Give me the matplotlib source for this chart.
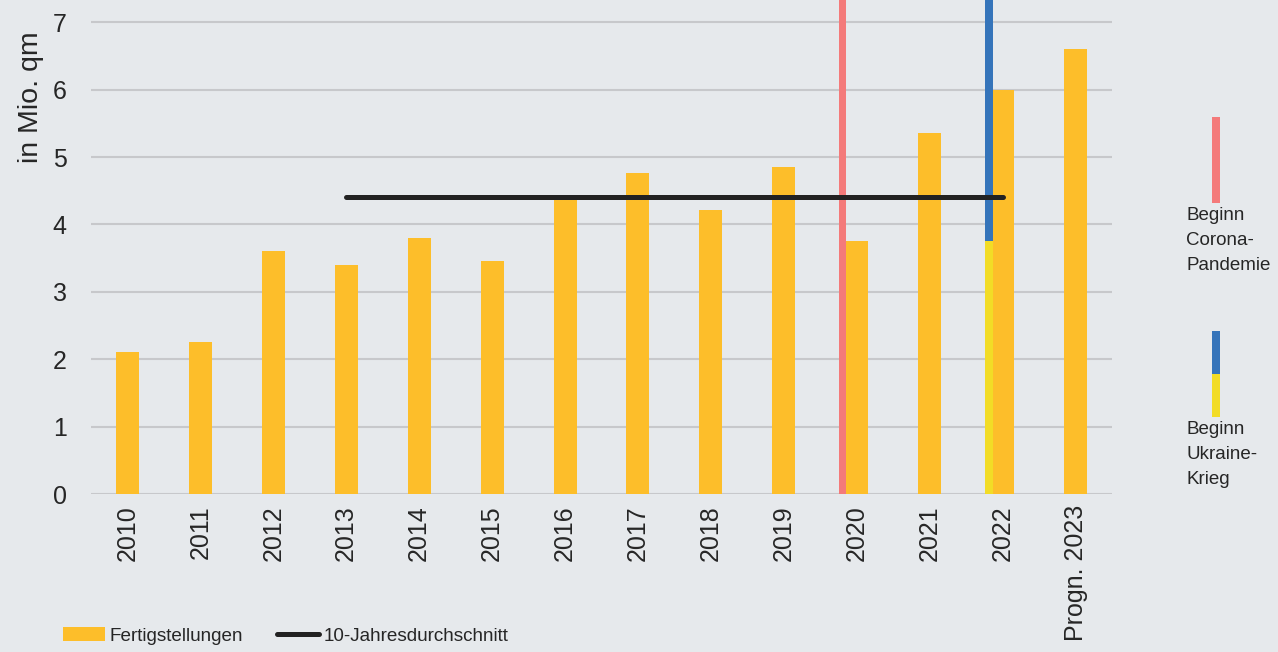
import matplotlib
matplotlib.use("Agg")
import matplotlib.pyplot as plt
from matplotlib.patches import Patch, Rectangle
from matplotlib.lines import Line2D

years = ["2010", "2011", "2012", "2013", "2014", "2015", "2016", "2017",
         "2018", "2019", "2020", "2021", "2022", "Progn. 2023"]
fertigstellungen = [2.1, 2.25, 3.6, 3.4, 3.8, 3.45, 4.4, 4.77, 4.22, 4.85,
                    3.75, 5.35, 6.0, 6.6]
avg_years = ["2013", "2014", "2015", "2016", "2017", "2018", "2019", "2020", "2021", "2022"]
avg_values = [4.41, 4.41, 4.41, 4.41, 4.41, 4.41, 4.41, 4.41, 4.41, 4.41]
corona_year = "2020"
ukraine_year = "2022"
ukraine_split = 3.75

BG = "#E6E9EC"
BAR = "#FDBE2A"
PINK = "#F47A7A"
BLUE = "#3574BA"
YELLOW = "#F2DC26"
GRID = "#C7C8CB"
TXT = "#262626"

plt.rcParams["font.family"] = ["Liberation Sans", "DejaVu Sans"]

W, H = 1278, 652
fig = plt.figure(figsize=(W / 100, H / 100), dpi=100, facecolor=BG)
ax = fig.add_axes([91 / W, 1 - 494 / H, (1112 - 91) / W, 494 / H])
ax.set_facecolor(BG)

x = list(range(len(years)))
ax.bar(x, fertigstellungen, width=0.315, color=BAR, zorder=2)

ax.set_ylim(0, 7.33)
ax.set_xlim(-0.5, len(years) - 0.5)
top = ax.get_ylim()[1]

ci = years.index(corona_year)
ax.bar(ci - 0.19, top, width=0.096, color=PINK, zorder=3)
ui = years.index(ukraine_year)
ax.bar(ui - 0.19, ukraine_split, width=0.11, color=YELLOW, zorder=3)
ax.bar(ui - 0.19, top - ukraine_split, bottom=ukraine_split, width=0.11, color=BLUE, zorder=3)

ax_x = [years.index(y) for y in avg_years]
ax.plot(ax_x, avg_values, color="#222222", lw=3.6, solid_capstyle="round", zorder=4)

ax.set_yticks(range(0, 8))
ax.yaxis.grid(True, color=GRID, lw=1.5, zorder=0)
ax.set_axisbelow(True)
for s in ax.spines.values():
    s.set_visible(False)
ax.tick_params(axis="both", length=0, labelsize=18, colors=TXT)
ax.tick_params(axis="y", pad=17.5)
ax.tick_params(axis="x", pad=8)
ax.set_xticks(x)
ax.set_xticklabels(years, rotation=90, va="top", ha="center")

fig.text(31 / W, 1 - 97.5 / H, "in Mio. qm", rotation=90, ha="center", va="center",
         fontsize=20.5, color=TXT)

handles = [Patch(facecolor=BAR, edgecolor="none"),
           Line2D([0], [0], color="#222222", lw=3.6, solid_capstyle="round")]
leg = fig.legend(handles, ["Fertigstellungen", "10-Jahresdurchschnitt"], ncol=2,
                 loc="center left", bbox_to_anchor=(63 / W, 1 - 636 / H), frameon=False,
                 prop={"size": 13.6}, handlelength=2.2, handletextpad=0.27,
                 columnspacing=1.8, handleheight=0.75, borderaxespad=0, borderpad=0)
for t in leg.get_texts():
    t.set_color(TXT)

def rect(x0, y0, x1, y1, color):
    fig.add_artist(Rectangle((x0 / W, 1 - y1 / H), (x1 - x0) / W, (y1 - y0) / H,
                             transform=fig.transFigure, facecolor=color, edgecolor="none"))

rect(1212, 117, 1220, 203, PINK)
rect(1212, 331, 1220, 374, BLUE)
rect(1212, 374, 1220, 417, YELLOW)

fig.text(1186 / W, 1 - 207 / H, "Beginn\nCorona-\nPandemie", ha="left", va="top",
         fontsize=13.5, color=TXT, linespacing=1.6)
fig.text(1186 / W, 1 - 421 / H, "Beginn\nUkraine-\nKrieg", ha="left", va="top",
         fontsize=13.5, color=TXT, linespacing=1.6)

fig.savefig("out.png", dpi=100, facecolor=BG)
